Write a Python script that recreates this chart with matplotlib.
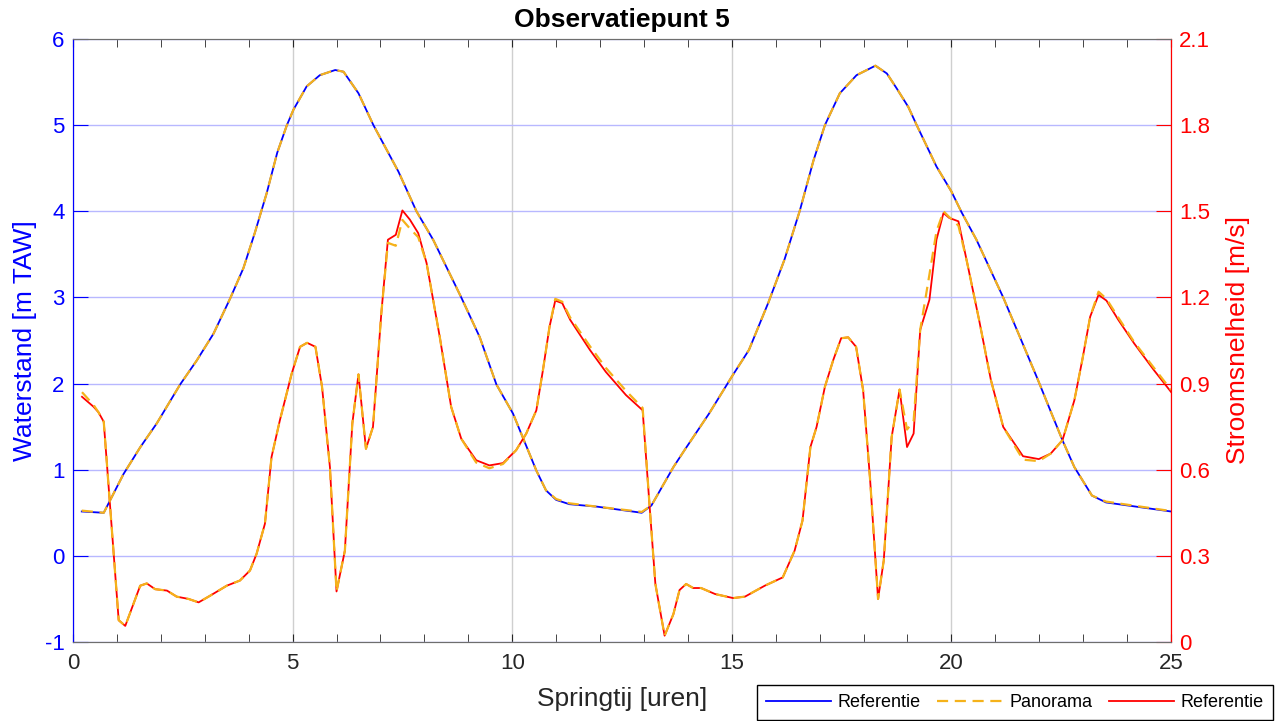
import numpy as np
import matplotlib
matplotlib.use("Agg")
import matplotlib.pyplot as plt
from matplotlib.ticker import MultipleLocator

plt.rcParams['font.family'] = ['Liberation Sans', 'DejaVu Sans']
plt.rcParams['axes.unicode_minus'] = False

# Waterstand (left axis)
t_water = [0.2, 0.7, 1.15, 1.53, 1.91, 2.44, 2.82, 3.2, 3.58, 3.88, 4.14, 4.41, 4.65,
           4.87, 5.02, 5.32, 5.62, 5.97, 6.16, 6.5, 6.84, 7.41, 7.82, 8.2, 8.84, 9.26,
           9.64, 10.02, 10.55, 10.77, 11.0, 11.3, 11.95, 12.95, 13.17, 13.67, 13.94,
           14.48, 15.0, 15.39, 15.84, 16.2, 16.55, 16.86, 17.12, 17.46, 17.84, 18.27,
           18.53, 18.75, 19.02, 19.21, 19.66, 20.0, 20.23, 20.57, 21.18, 21.94, 22.53,
           22.8, 23.2, 23.52, 25.0]
water_ref = [0.515, 0.50, 0.95, 1.26, 1.54, 1.99, 2.27, 2.58, 2.99, 3.34, 3.75, 4.21, 4.68,
             5.0, 5.18, 5.45, 5.58, 5.64, 5.62, 5.37, 5.0, 4.46, 4.0, 3.67, 3.0, 2.54,
             1.99, 1.65, 0.99, 0.76, 0.65, 0.60, 0.57, 0.50, 0.585, 1.03, 1.24,
             1.65, 2.08, 2.39, 2.95, 3.44, 4.01, 4.59, 5.0, 5.37, 5.58, 5.69,
             5.60, 5.43, 5.21, 5.0, 4.52, 4.23, 3.99, 3.67, 3.0, 2.08, 1.34,
             1.03, 0.70, 0.62, 0.515]
water_pan = [0.525, 0.50, 0.95, 1.26, 1.54, 1.99, 2.27, 2.58, 2.99, 3.34, 3.75, 4.21, 4.68,
             5.0, 5.18, 5.45, 5.58, 5.64, 5.62, 5.37, 5.0, 4.46, 4.0, 3.67, 3.0, 2.54,
             1.99, 1.65, 0.99, 0.76, 0.66, 0.61, 0.57, 0.51, 0.585, 1.03, 1.24,
             1.65, 2.08, 2.39, 2.95, 3.44, 4.01, 4.59, 5.0, 5.37, 5.58, 5.69,
             5.60, 5.43, 5.21, 5.0, 4.52, 4.23, 3.99, 3.67, 3.0, 2.08, 1.34,
             1.03, 0.70, 0.63, 0.52]

# Stroomsnelheid (right axis)
t_vel = [0.205, 0.47, 0.58, 0.70, 1.04, 1.19, 1.53, 1.68, 1.87, 2.14, 2.36, 2.63, 2.86,
         3.12, 3.5, 3.8, 4.03, 4.18, 4.37, 4.52, 4.71, 4.98, 5.17, 5.33, 5.52, 5.67,
         5.85, 6.0, 6.19, 6.36, 6.5, 6.67, 6.83, 7.02, 7.17, 7.35, 7.5, 7.67, 7.86,
         8.05, 8.35, 8.61, 8.84, 9.18, 9.48, 9.79, 10.09, 10.32, 10.55, 10.7, 10.85,
         10.98, 11.14, 11.32, 11.77, 12.13, 12.59, 12.97, 13.13, 13.26, 13.47, 13.67,
         13.81, 13.96, 14.12, 14.3, 14.62, 15.03, 15.3, 15.75, 16.16, 16.43, 16.61,
         16.79, 16.93, 17.12, 17.31, 17.49, 17.65, 17.83, 17.99, 18.15, 18.33, 18.46,
         18.64, 18.82, 18.99, 19.14, 19.29, 19.5, 19.66, 19.82, 19.95, 20.16, 20.36,
         20.63, 20.9, 21.18, 21.63, 21.99, 22.26, 22.53, 22.8, 22.98, 23.16, 23.35,
         23.53, 23.8, 24.16, 24.61, 25.0]
vel_ref = [0.854, 0.819, 0.80, 0.767, 0.076, 0.056, 0.196, 0.204, 0.184, 0.179, 0.158, 0.15, 0.138,
           0.161, 0.196, 0.214, 0.249, 0.307, 0.412, 0.644, 0.772, 0.935, 1.028, 1.042, 1.028, 0.889,
           0.609, 0.176, 0.318, 0.761, 0.932, 0.673, 0.749, 1.145, 1.401, 1.418, 1.503, 1.471, 1.424,
           1.32, 1.063, 0.819, 0.708, 0.633, 0.615, 0.623, 0.668, 0.726, 0.807, 0.947, 1.098,
           1.189, 1.18, 1.122, 1.017, 0.941, 0.86, 0.807, 0.47, 0.202, 0.022, 0.097,
           0.181, 0.202, 0.188, 0.188, 0.167, 0.153, 0.158, 0.196, 0.225, 0.318, 0.423,
           0.679, 0.749, 0.889, 0.982, 1.058, 1.061, 1.028, 0.877, 0.563, 0.15, 0.284,
           0.714, 0.879, 0.679, 0.726, 1.087, 1.192, 1.401, 1.494, 1.477, 1.465, 1.32,
           1.122, 0.912, 0.749, 0.647, 0.637, 0.656, 0.703, 0.842, 0.982, 1.133, 1.209,
           1.189, 1.122, 1.04, 0.947, 0.871]
vel_pan = [0.87, 0.825, 0.80, 0.767, 0.076, 0.056, 0.196, 0.204, 0.184, 0.179, 0.158, 0.15, 0.138,
           0.161, 0.196, 0.214, 0.249, 0.307, 0.412, 0.644, 0.772, 0.935, 1.028, 1.042, 1.028, 0.889,
           0.609, 0.176, 0.318, 0.761, 0.932, 0.673, 0.749, 1.145, 1.39, 1.38, 1.47, 1.44, 1.41,
           1.32, 1.063, 0.819, 0.708, 0.625, 0.605, 0.62, 0.668, 0.726, 0.807, 0.947, 1.098,
           1.195, 1.185, 1.13, 1.03, 0.955, 0.875, 0.815, 0.47, 0.202, 0.022, 0.097,
           0.181, 0.202, 0.188, 0.188, 0.167, 0.153, 0.158, 0.196, 0.225, 0.318, 0.423,
           0.679, 0.749, 0.889, 0.982, 1.058, 1.061, 1.028, 0.877, 0.563, 0.15, 0.284,
           0.714, 0.879, 0.74, 0.77, 1.087, 1.28, 1.43, 1.50, 1.48, 1.45, 1.32,
           1.122, 0.912, 0.749, 0.635, 0.63, 0.656, 0.703, 0.842, 0.982, 1.133, 1.22,
           1.195, 1.13, 1.045, 0.955, 0.878]

right_ticks = [0, 0.3, 0.6, 0.9, 1.2, 1.5, 1.8, 2.1]
right_labels = ['0', '0.3', '0.6', '0.9', '1.2', '1.5', '1.8', '2.1']

dark = '#262626'
orange = '#F5B21A'

fig = plt.figure(figsize=(12.76, 7.21), dpi=100)
ax = fig.add_axes([73/1276, 79/721, 1098/1276, 603/721])
ax2 = ax.twinx()

l1, = ax.plot(t_water, water_ref, color='blue', lw=1.3)
l2, = ax.plot(t_water, water_pan, color=orange, lw=1.6, dashes=(5, 3))
l3, = ax2.plot(t_vel, vel_ref, color='red', lw=1.3)
ax2.plot(t_vel, vel_pan, color=orange, lw=1.6, dashes=(5, 3))

ax.set_xlim(0, 25)
ax.set_ylim(-1, 6)
ax2.set_ylim(0, 2.1)
ax.set_xticks(range(0, 26, 5))
ax.xaxis.set_minor_locator(MultipleLocator(1))
ax.set_yticks(range(-1, 7))
ax2.set_yticks(right_ticks)
ax2.set_yticklabels(right_labels)

ax.grid(axis='x', which='major', color='#cfcfcf', lw=1)
ax.grid(axis='y', color='#b8b8ff', lw=1)

ax.tick_params(axis='x', which='both', direction='in', top=True, colors=dark,
               labelsize=16, length=6, pad=8)
ax.tick_params(axis='y', direction='in', colors='blue', labelsize=16, length=11, pad=6)
ax2.tick_params(axis='y', direction='in', colors='red', labelsize=16, length=11, pad=6)

for a in (ax, ax2):
    a.spines['top'].set_color('#6e6e6e')
    a.spines['bottom'].set_color('#6e6e6e')
    a.spines['left'].set_color('blue')
    a.spines['right'].set_color('red')

ax.set_xlabel('Springtij [uren]', fontsize=19, color=dark, labelpad=9)
ax.set_ylabel('Waterstand [m TAW]', fontsize=19, color='blue')
ax.yaxis.set_label_coords(-0.033, 0.5)
ax2.set_ylabel('Stroomsnelheid [m/s]', fontsize=19, color='red')
ax2.yaxis.set_label_coords(1.050, 0.5)
ax.set_title('Observatiepunt 5', fontsize=19, fontweight='bold', pad=9)

fig.legend([l1, l2, l3], ['Referentie', 'Panorama', 'Referentie'],
           loc='lower right', bbox_to_anchor=(1273/1276, 1/721), ncol=3,
           frameon=True, fancybox=False, edgecolor='black', fontsize=13,
           handlelength=3.6, borderpad=0.5, borderaxespad=0, columnspacing=0.9,
           handletextpad=0.4, framealpha=1)

fig.savefig('out.png', dpi=100)
